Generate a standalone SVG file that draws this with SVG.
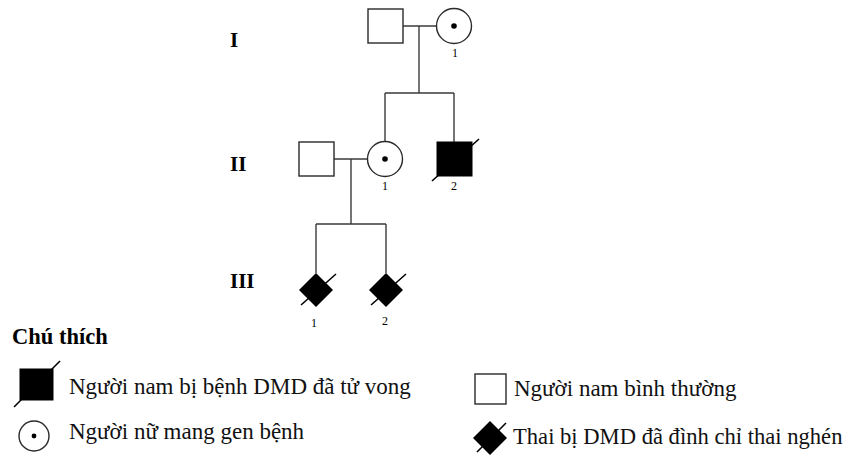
<svg xmlns="http://www.w3.org/2000/svg" width="849" height="455" viewBox="0 0 849 455">
  <style>
    .line { stroke: #3a3a3a; stroke-width: 1.4; fill: none; }
    .open { fill: #ffffff; stroke: #2a2a2a; stroke-width: 1.4; }
    .solid { fill: #000000; stroke: #000000; stroke-width: 1; }
    .slash { stroke: #000000; stroke-width: 1.6; }
    .gen { font-family: "Liberation Serif", "Times New Roman", serif; font-weight: bold; font-size: 21px; fill: #000; }
    .num { font-family: "Liberation Serif", "Times New Roman", serif; font-size: 12px; fill: #000; text-anchor: middle; }
    .leg { font-family: "Liberation Serif", "Times New Roman", "DejaVu Serif", serif; font-size: 23px; fill: #111; }
    .title { font-family: "Liberation Serif", "Times New Roman", serif; font-weight: bold; font-size: 22.5px; fill: #000; }
  </style>
  <defs>
    <rect id="diamond" x="-12" y="-12" width="24" height="24" transform="rotate(45)"/>
  </defs>

  <rect width="849" height="455" fill="#ffffff"/>

  <!-- generation labels -->
  <text class="gen" x="230" y="47">I</text>
  <text class="gen" x="230" y="171">II</text>
  <text class="gen" x="230" y="288">III</text>

  <!-- connectors -->
  <g id="connectors">
    <line class="line" x1="403" y1="26" x2="436.5" y2="26"/>
    <line class="line" x1="419" y1="26" x2="419" y2="93"/>
    <line class="line" x1="385" y1="93" x2="454" y2="93"/>
    <line class="line" x1="385" y1="93" x2="385" y2="141.5"/>
    <line class="line" x1="454" y1="93" x2="454" y2="142"/>
    <line class="line" x1="334" y1="159" x2="367.5" y2="159"/>
    <line class="line" x1="351" y1="159" x2="351" y2="224"/>
    <line class="line" x1="316" y1="224" x2="386" y2="224"/>
    <line class="line" x1="316" y1="224" x2="316" y2="273"/>
    <line class="line" x1="386" y1="224" x2="386" y2="273"/>
  </g>

  <!-- generation I -->
  <g id="I-male">
    <rect class="open" x="368" y="9" width="35" height="34"/>
  </g>
  <g id="I-1">
    <circle class="open" cx="454" cy="26" r="17.5"/>
    <circle cx="454" cy="26" r="2.8" fill="#000"/>
    <text class="num" x="455" y="57">1</text>
  </g>

  <!-- generation II -->
  <g id="II-male">
    <rect class="open" x="299" y="142" width="35" height="34"/>
  </g>
  <g id="II-1">
    <circle class="open" cx="385" cy="159" r="17.5"/>
    <circle cx="385" cy="159" r="2.8" fill="#000"/>
    <text class="num" x="385" y="190">1</text>
  </g>
  <g id="II-2">
    <rect class="solid" x="437" y="142" width="35" height="34"/>
    <line class="slash" x1="432" y1="181" x2="479" y2="139"/>
    <text class="num" x="454" y="190">2</text>
  </g>

  <!-- generation III -->
  <g id="III-1">
    <use href="#diamond" x="316" y="290" fill="#000"/>
    <line class="slash" x1="301" y1="305" x2="336" y2="274"/>
    <text class="num" x="314" y="327">1</text>
  </g>
  <g id="III-2">
    <use href="#diamond" x="386" y="290" fill="#000"/>
    <line class="slash" x1="371" y1="305" x2="406" y2="274"/>
    <text class="num" x="385" y="325">2</text>
  </g>

  <!-- key -->
  <g id="legend">
    <text class="title" x="12" y="344">Chú thích</text>

    <g id="key-affected-male">
      <rect class="solid" x="20" y="369" width="33" height="31"/>
      <line class="slash" x1="14" y1="407" x2="60" y2="361"/>
      <text class="leg" x="69" y="394">Người nam bị bệnh DMD đã tử vong</text>
    </g>

    <g id="key-carrier-female">
      <circle class="open" cx="34" cy="436" r="15"/>
      <circle cx="34" cy="436" r="2.4" fill="#000"/>
      <text class="leg" x="69" y="439">Người nữ mang gen bệnh</text>
    </g>

    <g id="key-normal-male">
      <rect class="open" x="475" y="374" width="31" height="30"/>
      <text class="leg" x="514" y="396">Người nam bình thường</text>
    </g>

    <g id="key-fetus">
      <use href="#diamond" x="490" y="438" fill="#000"/>
      <line class="slash" x1="477" y1="452" x2="506" y2="423"/>
      <text class="leg" x="513" y="444" style="font-size:22.6px">Thai bị DMD đã đình chỉ thai nghén</text>
    </g>
  </g>
</svg>
